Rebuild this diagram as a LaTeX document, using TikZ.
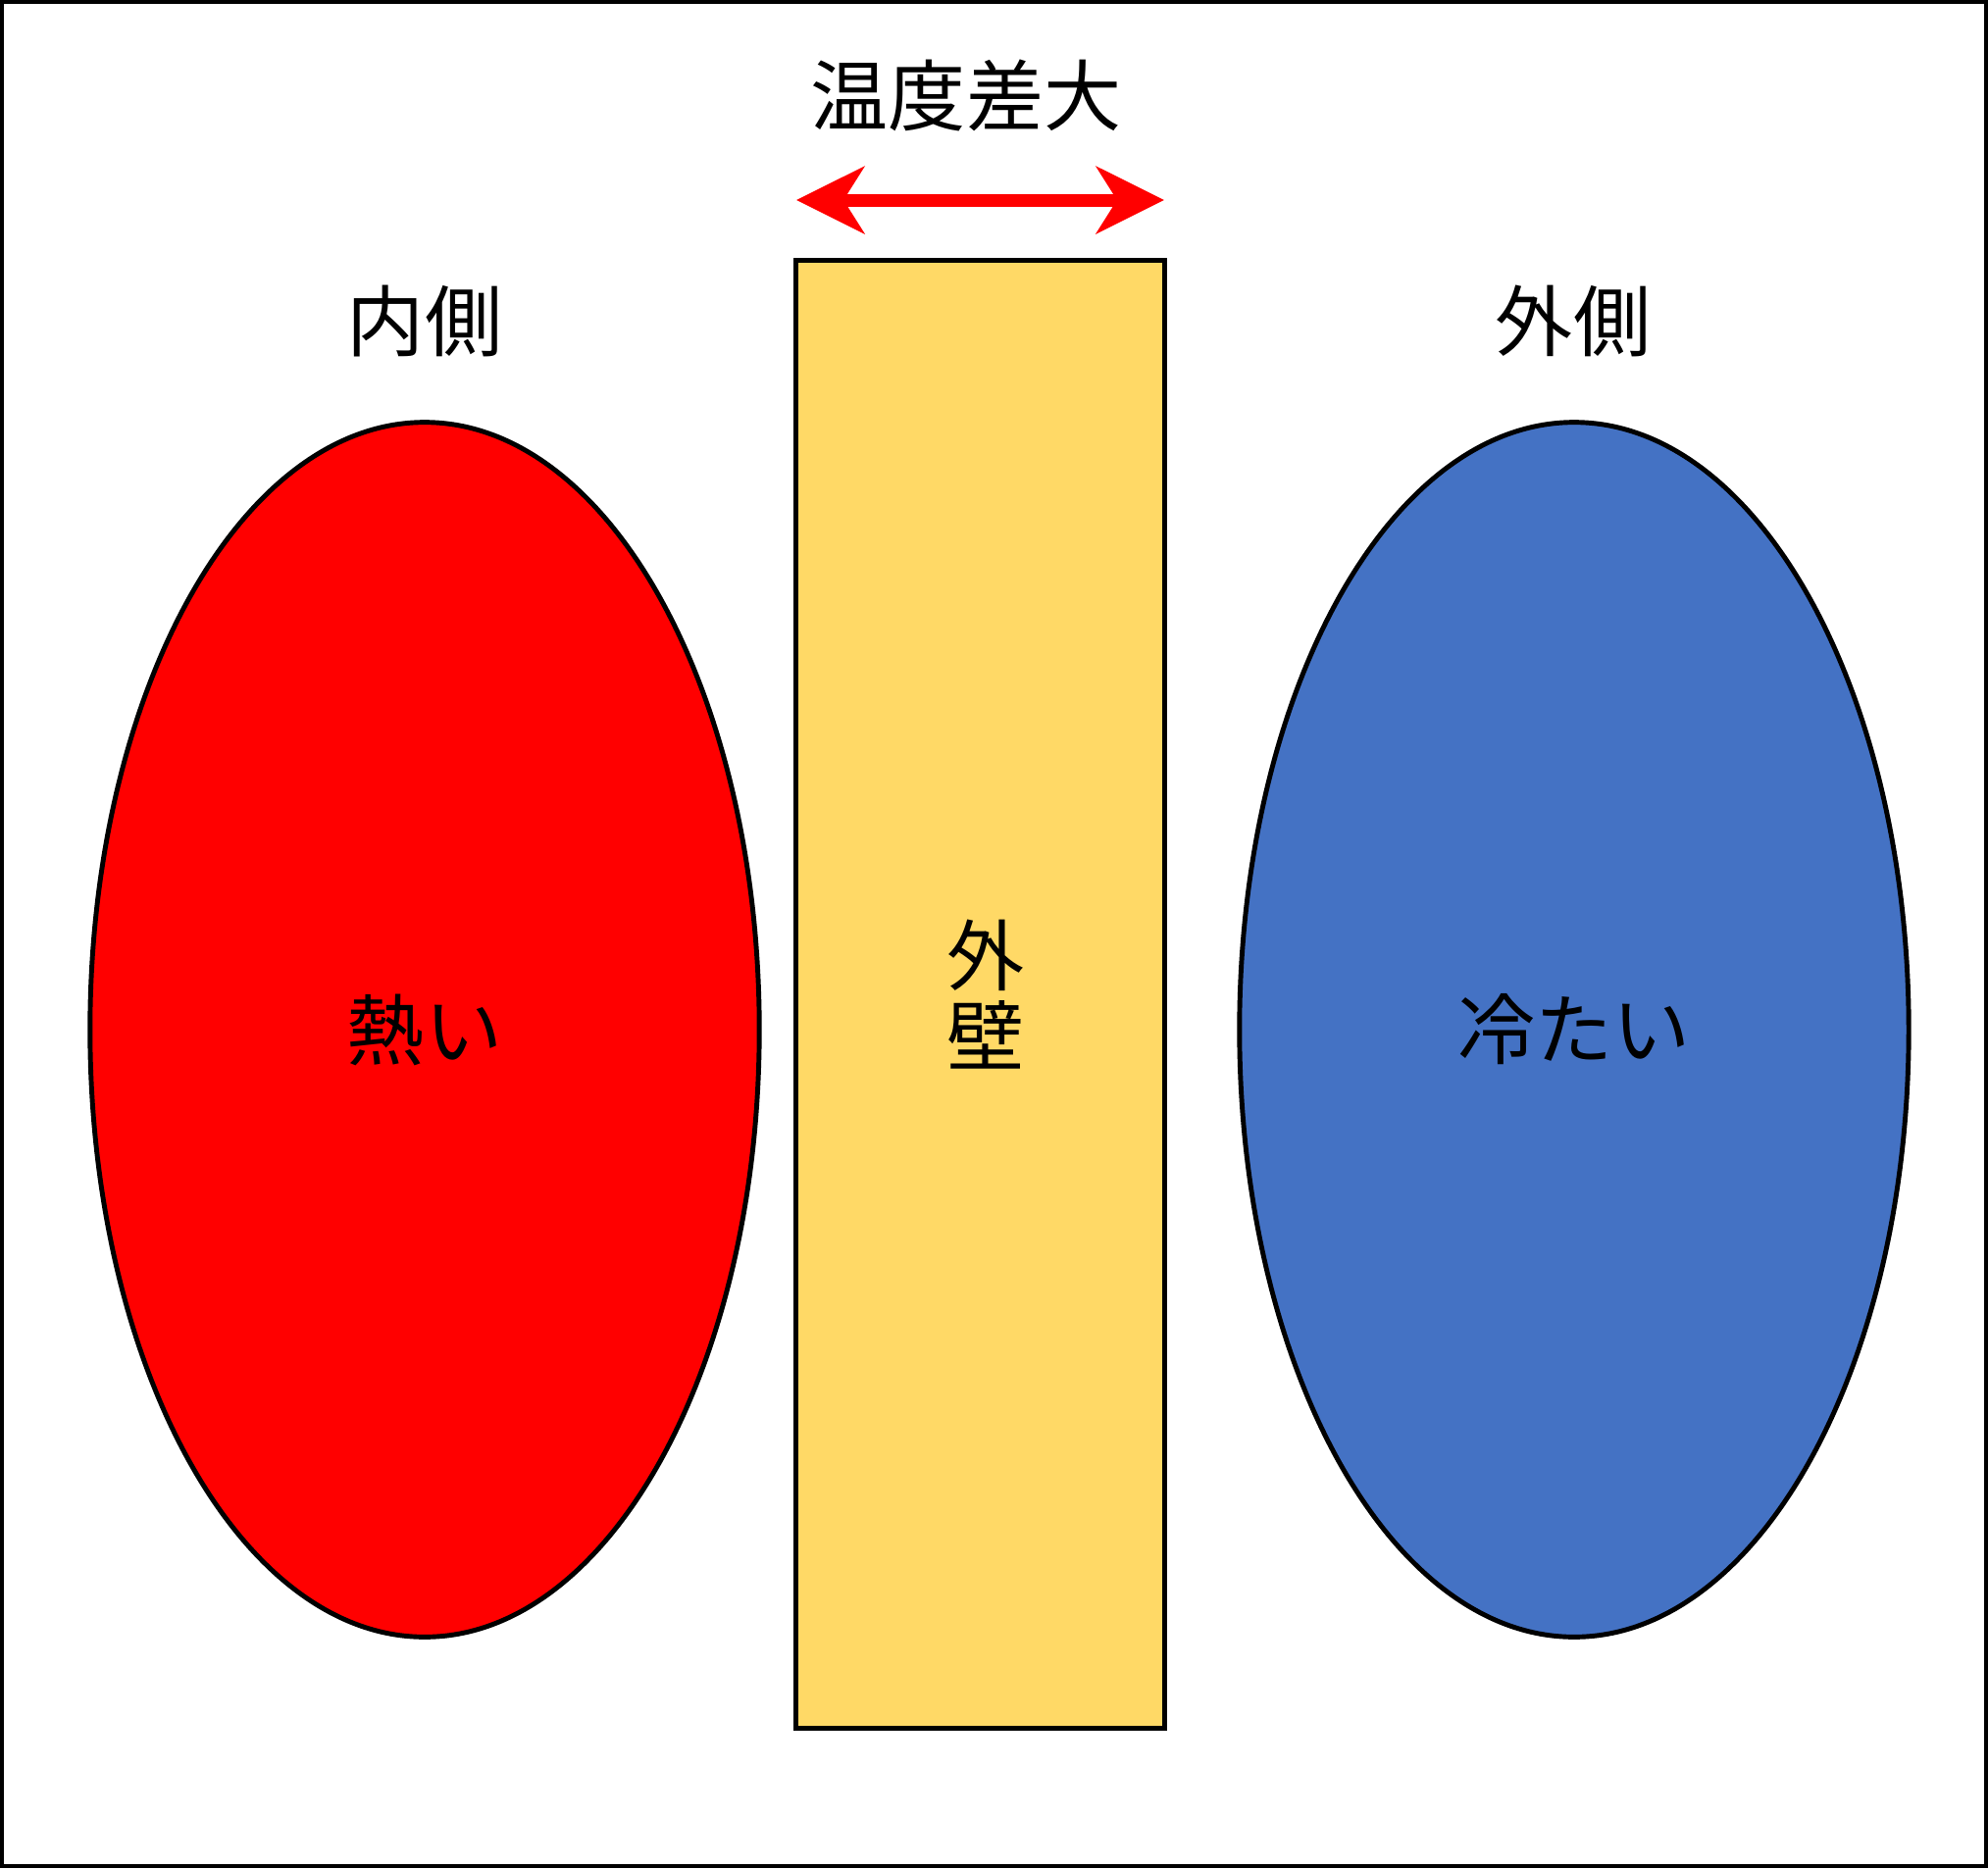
\documentclass[tikz,border=0pt]{standalone}
\usepackage{fontspec}
\newfontfamily\jpfont{Noto Sans CJK JP}
\usetikzlibrary{arrows.meta,shapes.geometric}
\definecolor{wallyellow}{RGB}{255,217,102}
\definecolor{coldblue}{RGB}{68,114,196}

\begin{document}
\begin{tikzpicture}[x=0.01cm,y=-0.01cm]
			\tikzstyle{side label}=[font=\jpfont\fontsize{22.5}{23.5}\selectfont,inner sep=0pt,align=center]
			\tikzstyle{air}=[side label,ellipse,draw,line width=1.4pt,minimum width=6.82cm,minimum height=12.38cm]
			\tikzstyle{hot air}=[air,fill=red]
			\tikzstyle{cold air}=[air,fill=coldblue]
			\tikzstyle{wall}=[side label,rectangle,draw,line width=1.4pt,fill=wallyellow,minimum width=3.75cm,minimum height=14.96cm]
			\tikzstyle{temp arrow}=[draw,red,line width=3.7pt,{Stealth[length=0.69cm,width=0.68cm,inset=0.21cm]}-{Stealth[length=0.69cm,width=0.68cm,inset=0.21cm]}]
			
			\useasboundingbox (0,0) rectangle (2027,1905);
			\draw[line width=1.4pt] (2,2) rectangle (2025,1903);
			
			\node[hot air] (hot) at (433,1050) {熱い};
			\node[cold air] (cold) at (1605,1050) {冷たい};
			\node[wall] (wall) at (999.5,1014) {\hspace*{3pt}外\\\hspace*{3pt}壁};
			
			\node[side label] (inside) at (433,327) {内側};
			\node[side label] (outside) at (1604,327) {外側};
			\node[side label] (diff) at (985,97) {温度差大};
			
			\coordinate (arrow left) at (812,204);
			\coordinate (arrow right) at (1187,204);
			\draw[temp arrow] (arrow left) -- (arrow right);
		\end{tikzpicture}
\end{document}
